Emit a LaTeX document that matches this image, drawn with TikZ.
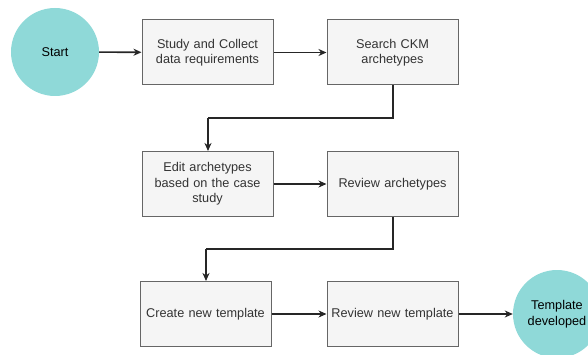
\documentclass[tikz,border=0pt]{standalone}
\usepackage{fontspec}
\setmainfont{Liberation Sans}
\usetikzlibrary{arrows.meta}
\definecolor{teal1}{HTML}{8FD9D8}
\definecolor{boxfill}{HTML}{F5F5F5}
\definecolor{boxline}{HTML}{666666}
\definecolor{boxtext}{HTML}{333333}
\tikzset{
  stepbox/.style={draw=boxline, fill=boxfill, line width=1pt, minimum width=131pt, minimum height=65pt, text width=125pt, align=center, font=\fontsize{12.7pt}{15.5pt}\selectfont, text=boxtext, inner sep=0pt},
  term/.style={circle, fill=teal1, minimum size=88pt, inner sep=0pt, align=center, font=\fontsize{12.7pt}{15.5pt}\selectfont, text=black},
  conn/.style={draw=black!85, line width=1.6pt, -{Stealth[length=8pt,width=7pt,inset=2.5pt]}},
}
\begin{document}
\begin{tikzpicture}[x=1pt,y=-1pt]
\useasboundingbox (0,0) rectangle (588,355);
\clip (0,0) rectangle (588,355);
\node[term] (start) at (55,52) {Start};
\node[stepbox] (b1) at (207.5,52.5) {Study and Collect\\data requirements};
\node[stepbox] (b2) at (392.5,52.5) {Search CKM\\archetypes};
\node[stepbox] (b3) at (207.5,184) {Edit archetypes\\based on the case\\study};
\node[stepbox] (b4) at (392.5,184) {Review archetypes};
\node[stepbox] (b5) at (205.5,314) {Create new template};
\node[stepbox] (b6) at (392.5,314) {Review new template};
\node[term] (end) at (557,314) {Template\\developed};
\coordinate (c1) at (393,118);
\coordinate (c2) at (208,118);
\coordinate (c3) at (393,249);
\coordinate (c4) at (206,249);
\draw[conn] (start) -- (b1);
\draw[conn] (b1) -- (b2);
\draw[conn, -] (b2.south -| c1) -- (c1) -- (c2);
\draw[conn] (c2) -- (c2 |- b3.north);
\draw[conn] (b3) -- (b4);
\draw[conn, -] (b4.south -| c3) -- (c3) -- (c4);
\draw[conn] (c4) -- (c4 |- b5.north);
\draw[conn, line width=1.2pt] (b5) -- (b6);
\draw[conn, line width=1.2pt] (b6) -- (end);
\end{tikzpicture}
\end{document}
